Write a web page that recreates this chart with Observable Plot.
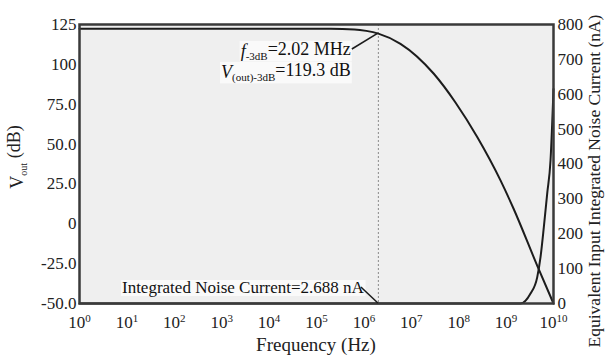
<!DOCTYPE html>
<html><head><meta charset="utf-8">
<script src="https://cdn.jsdelivr.net/npm/d3@7"></script>
<script src="https://cdn.jsdelivr.net/npm/@observablehq/plot@0.6"></script>
<style>
body{margin:0;background:#fff}
#chart svg, #chart svg text, #chart svg tspan{font-family:"Liberation Serif","Times New Roman",serif !important;}
</style>
</head><body><div id="chart"></div>
<script>
// ---- data ----
const voutExp = [0, 5.3, 5.8, 6.05, 6.305, 6.772, 7.475, 7.932, 8.397, 8.882, 9.156, 9.656, 10];
const voutDb  = [122.3, 122.3, 121.9, 121.0, 119.3, 112.9, 94.1, 76.1, 54.1, 27.2, 9.6, -26.2, -50];
const noiseExp = [0, 9.0, 9.30, 9.515, 9.656, 9.726, 9.796, 9.867, 9.937, 10];
const noiseNa  = [0, 0, 0, 28.7, 75, 133, 219, 315, 410, 615];
const yTicksDb = [125, 100, 75, 50, 25, 0, -25, -50];
const yTickLabels = ["125", "100", "75.0", "50.0", "25.0", "0", "-25.0", "-50.0"];
const rightTicksNa = [0, 100, 200, 300, 400, 500, 600, 700, 800];
const xTickExp = [0, 1, 2, 3, 4, 5, 6, 7, 8, 9, 10];
const f3dB = 2.02e6;
const v3dB = 119.3;
const f3dBText = "=2.02 MHz";
const v3dBText = "=119.3 dB";
const noiseText = "Integrated Noise Current=2.688 nA";
const xLabel = "Frequency (Hz)";
const rightLabel = "Equivalent Input Integrated Noise Current (nA)";

// ---- derived tables ----
const dbMin = -50, dbMax = 125, naMax = 800;
const naToDb = n => dbMin + n / naMax * (dbMax - dbMin);
const dbToNa = d => Math.round((d - dbMin) / (dbMax - dbMin) * naMax);
const vout = voutExp.map((e, i) => ({f: 10 ** e, db: voutDb[i]}));
const noise = noiseExp.map((e, i) => ({f: 10 ** e, y: naToDb(noiseNa[i])}));
const yLabelMap = new Map(yTicksDb.map((d, i) => [d, yTickLabels[i]]));

const ink = "#1c1c1c";
const chart = Plot.plot({
  width: 613, height: 362,
  marginTop: 24, marginBottom: 59, marginLeft: 79, marginRight: 60,
  style: {fontFamily: "'Liberation Serif', serif", fontSize: "17px", color: "#222", background: "#fff"},
  x: {type: "log", domain: [1, 1e10]},
  y: {domain: [dbMin, dbMax]},
  marks: [
    Plot.frame({fill: "#efefef"}),
    Plot.ruleX([f3dB], {stroke: "#8a8a8a", strokeWidth: 1, strokeDasharray: "2,2"}),
    Plot.line(vout, {x: "f", y: "db", stroke: ink, strokeWidth: 2, curve: "monotone-x"}),
    Plot.line(noise, {x: "f", y: "y", stroke: ink, strokeWidth: 2, curve: "monotone-x"}),
    Plot.frame({stroke: "#3a3a3a", strokeWidth: 2.5}),
    Plot.axisY(yTicksDb, {anchor: "left", tickSize: 0, tickPadding: 3, tickFormat: d => yLabelMap.get(d), label: null}),
    Plot.axisY(rightTicksNa.map(naToDb), {anchor: "right", tickSize: 0, tickPadding: 4, tickFormat: d => String(dbToNa(d)), label: null}),
    Plot.axisX(xTickExp.map(e => 10 ** e), {tickSize: 0, tickPadding: 12, tickFormat: d => "10^" + Math.round(Math.log10(d)), label: null})
  ]
});
document.getElementById("chart").appendChild(chart);

const svg = d3.select(chart);
// superscripts on x tick labels
svg.selectAll("text").each(function() {
  const t = d3.select(this);
  const s = t.text();
  const m = /^10\^(\d+)$/.exec(s);
  if (m) {
    t.text("");
    t.append("tspan").text("10");
    t.append("tspan").attr("dy", "-0.55em").attr("font-size", "11px").text(m[1]);
  }
});

const sx = chart.scale("x"), sy = chart.scale("y");
const px = sx.apply(f3dB), py = sy.apply(v3dB);
const ann = svg.append("g").attr("font-size", "18px").attr("fill", "#111");

function boxed(g, build) {
  const t = build(g);
  const bb = t.node().getBBox();
  g.insert("rect", "text").attr("x", bb.x - 1).attr("y", bb.y + 2).attr("width", bb.width + 2).attr("height", bb.height - 3).attr("fill", "#fafafa");
}
// f-3dB annotation
boxed(ann.append("g"), g => {
  const t = g.append("text").attr("x", px - 27).attr("y", 57).attr("text-anchor", "end");
  t.append("tspan").attr("font-style", "italic").text("f");
  t.append("tspan").attr("font-size", "11px").attr("dy", "0.3em").text("-3dB");
  t.append("tspan").attr("dy", "-0.3em").text(f3dBText);
  return t;
});
boxed(ann.append("g"), g => {
  const t = g.append("text").attr("x", px - 27).attr("y", 78).attr("text-anchor", "end");
  t.append("tspan").attr("font-style", "italic").text("V");
  t.append("tspan").attr("font-size", "11px").attr("dy", "0.3em").text("(out)-3dB");
  t.append("tspan").attr("dy", "-0.3em").text(v3dBText);
  return t;
});
ann.append("line").attr("x1", px - 26).attr("y1", 49).attr("x2", px).attr("y2", py).attr("stroke", ink).attr("stroke-width", 1.6);

// noise annotation
boxed(ann.append("g"), g => g.append("text").attr("x", px - 14).attr("y", 293).attr("text-anchor", "end").attr("font-size", "17px").text(noiseText));
ann.append("line").attr("x1", px - 17).attr("y1", 287).attr("x2", px).attr("y2", sy.apply(dbMin)).attr("stroke", ink).attr("stroke-width", 1.6);

// axis titles
const titles = svg.append("g").attr("fill", "#222");
titles.append("text").attr("x", (sx.apply(1) + sx.apply(1e10)) / 2).attr("y", 351).attr("text-anchor", "middle").attr("font-size", "19px").text(xLabel);
const yl = titles.append("text").attr("transform", "translate(23,157) rotate(-90)").attr("text-anchor", "middle").attr("font-size", "18px");
yl.append("tspan").text("V");
yl.append("tspan").attr("font-size", "10px").attr("dy", "0.35em").text("out");
yl.append("tspan").attr("dy", "-0.35em").text(" (dB)");
titles.append("text").attr("transform", "translate(600,181) rotate(-90)").attr("text-anchor", "middle").attr("font-size", "17.5px").text(rightLabel);
</script>
</body></html>
